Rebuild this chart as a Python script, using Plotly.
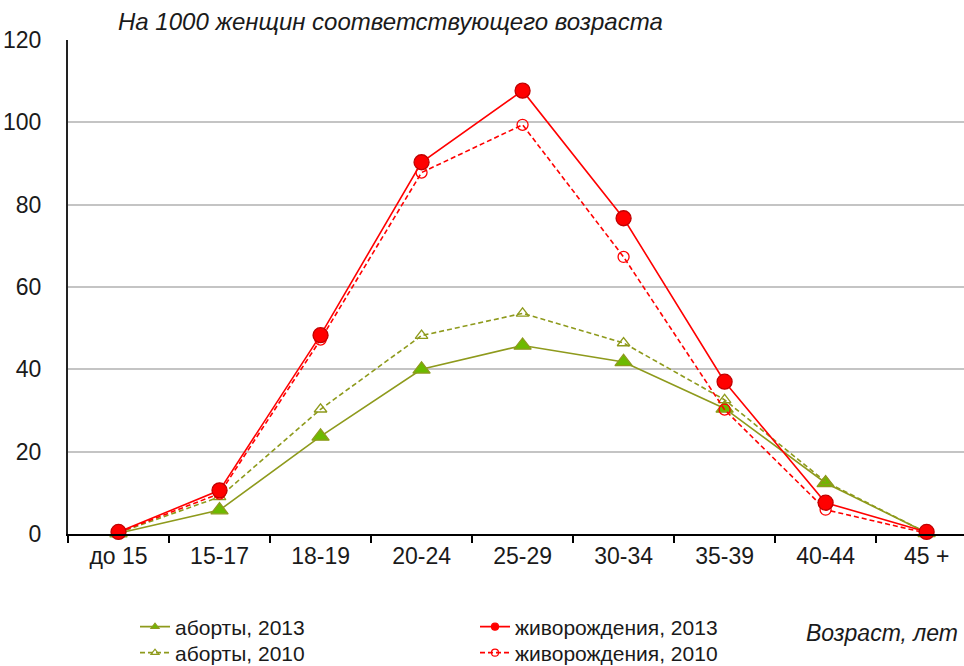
import plotly.graph_objects as go

categories = ["до 15", "15-17", "18-19", "20-24", "25-29", "30-34", "35-39", "40-44", "45 +"]
abortions_2013 = [0.2, 5.8, 23.7, 40.0, 45.8, 41.8, 30.5, 12.4, 0.3]
births_2013 = [0.5, 10.6, 48.3, 90.3, 107.7, 76.7, 37.0, 7.6, 0.5]
abortions_2010 = [0.3, 9.0, 30.3, 48.2, 53.6, 46.4, 32.6, 12.7, 0.3]
births_2010 = [0.4, 9.8, 47.2, 87.8, 99.4, 67.3, 30.2, 5.9, 0.2]
yticks = [0, 20, 40, 60, 80, 100, 120]

OLIVE = "#8E9A1C"
GREEN = "#6CBA00"
RED = "#FF0000"
FONT = "Liberation Sans, Arial, sans-serif"
TXT = "#1a1a1a"
DASH = "5px,3px"

W, H = 964, 666
L, R, T, B = 68, 0, 40, 132

series = [
    ("аборты, 2013", abortions_2013, "solid", "triangle-up", 15, GREEN, OLIVE, "legend2"),
    ("аборты, 2010", abortions_2010, DASH, "triangle-up-open", 11, OLIVE, OLIVE, "legend3"),
    ("живорождения, 2010", births_2010, DASH, "circle-open", 11, RED, RED, "legend5"),
    ("живорождения, 2013", births_2013, "solid", "circle", 15, RED, RED, "legend4"),
]

fig = go.Figure()
for name, vals, dash, sym, size, fill, col, lg in series:
    fig.add_trace(go.Scatter(
        x=categories, y=vals, name=name, mode="lines+markers",
        line=dict(color=col, width=1.6, dash=dash),
        marker=dict(symbol=sym, size=size, color=fill,
                    line=dict(color=("#C00000" if sym == "circle" else col), width=1.3)),
        cliponaxis=False, showlegend=False))
    # legend-only entry with a small marker, as in the reference legend
    fig.add_trace(go.Scatter(
        x=[None], y=[None], name=name, mode="lines+markers",
        line=dict(color=col, width=1.6, dash=dash),
        marker=dict(symbol=sym, size=7, color=fill, line=dict(color=col, width=1.2)),
        showlegend=True, legend=lg))

def lg(x_px, y_px):
    return dict(orientation="h", font=dict(family=FONT, size=21, color=TXT),
                bgcolor="rgba(0,0,0,0)", xref="container", yref="container",
                x=x_px / W, y=1 - y_px / H, xanchor="left", yanchor="middle",
                itemwidth=30)

pw = W - L - R
ph = H - T - B

def px_x(x):
    return (x - L) / pw

def px_y(y):
    return (H - B - y) / ph

fig.update_layout(
    width=W, height=H,
    margin=dict(l=L, r=R, t=T, b=B, autoexpand=False),
    paper_bgcolor="white", plot_bgcolor="white",
    font=dict(family=FONT, size=21, color=TXT),
    showlegend=True,
    legend2=lg(135, 627),
    legend3=lg(135, 653),
    legend4=lg(475, 627),
    legend5=lg(475, 653),
    xaxis=dict(
        type="category", range=[-0.5, 8.37], tickson="boundaries",
        ticks="outside", ticklen=7, tickwidth=1.5, tickcolor="black",
        showline=True, linecolor="black", linewidth=2, showgrid=False,
        tickfont=dict(family=FONT, size=23, color=TXT),
        automargin=False, fixedrange=True,
    ),
    yaxis=dict(
        range=[0, 120], tickvals=yticks, ticks="", showline=True, linecolor="#222222",
        linewidth=2, showgrid=True, gridcolor="#C4C4C4", gridwidth=1.6,
        tickfont=dict(family=FONT, size=23, color=TXT), ticklabelstandoff=20,
        zeroline=False, automargin=False, fixedrange=True,
    ),
    annotations=[
        dict(text="<i>На 1000 женщин соответствующего возраста</i>", xref="paper", yref="paper",
             x=px_x(116), y=px_y(22), xanchor="left", yanchor="middle", showarrow=False,
             font=dict(family=FONT, size=24, color=TXT)),
        dict(text="<i>Возраст, лет</i>", xref="paper", yref="paper",
             x=px_x(960), y=px_y(633), xanchor="right", yanchor="middle", showarrow=False,
             font=dict(family=FONT, size=23, color=TXT)),
    ],
)

fig.write_html("out.html", config={"displayModeBar": False},
               post_script="document.body.style.margin='0';document.body.style.overflow='hidden';")
